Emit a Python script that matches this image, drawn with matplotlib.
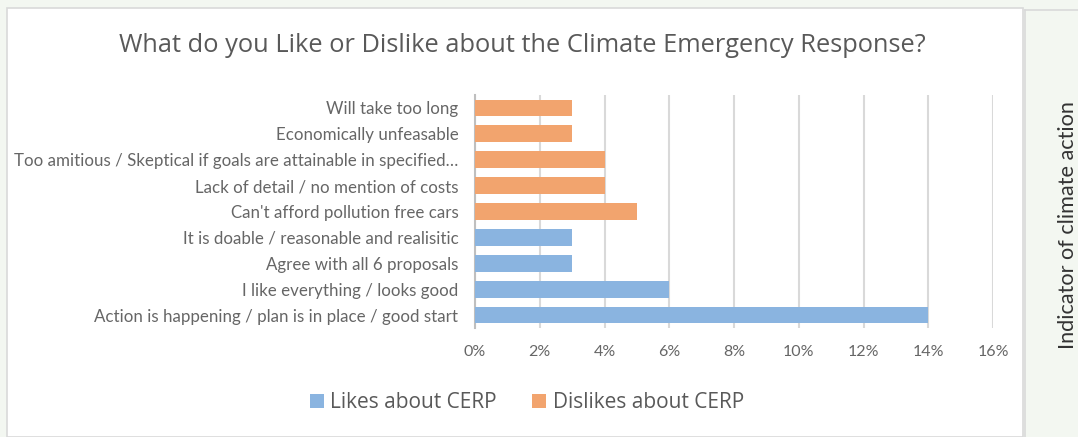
import matplotlib
matplotlib.use("Agg")
import matplotlib.pyplot as plt
import numpy as np
from matplotlib.patches import Rectangle, Patch
from matplotlib.lines import Line2D

categories = [
    "Action is happening / plan is in place / good start",
    "I like everything / looks good",
    "Agree with all 6 proposals",
    "It is doable / reasonable and realisitic",
    "Can't afford pollution free cars",
    "Lack of detail / no mention of costs",
    "Too amitious / Skeptical if goals are attainable in specified…",
    "Economically unfeasable",
    "Will take too long",
]
likes = [14, 6, 3, 3, np.nan, np.nan, np.nan, np.nan, np.nan]
dislikes = [np.nan, np.nan, np.nan, np.nan, 5, 4, 4, 3, 3]
x_ticks = [0, 2, 4, 6, 8, 10, 12, 14, 16]
x_tick_labels = [f"{t}%" for t in x_ticks]

BLUE = "#8ab4e0"
ORANGE = "#f2a46e"
TEXT = "#595959"
LABEL = "#666666"
PANEL = "#f3f7f1"

W, H = 1078, 437
fig = plt.figure(figsize=(W / 100, H / 100), dpi=100)
fig.patch.set_facecolor(PANEL)

def fx(px):
    return px / W

def fy(py):
    return 1 - py / H

# white chart frame
fig.patches.append(Rectangle((fx(7), 0), fx(1023) - fx(7), fy(8), transform=fig.transFigure,
                             facecolor="white", edgecolor="#d9d9d9", linewidth=1.2, zorder=-10))
# side panel border
fig.add_artist(Line2D([fx(1025), fx(1025)], [0, fy(10)], transform=fig.transFigure,
                      color="#d9d9d9", linewidth=1.2, zorder=-5))
fig.add_artist(Line2D([fx(1025), 1], [fy(10), fy(10)], transform=fig.transFigure,
                      color="#d9d9d9", linewidth=1.2, zorder=-5))

ax = fig.add_axes([fx(475), fy(328), fx(993) - fx(475), fy(95) - fy(328)])
ax.set_zorder(1)
ax.set_facecolor("white")
y = np.arange(len(categories))
ax.barh(y, likes, height=0.65, color=BLUE, zorder=3)
ax.barh(y, dislikes, height=0.65, color=ORANGE, zorder=3)

ax.set_xlim(0, 16)
ax.set_ylim(-0.5, len(categories) - 0.5)
ax.set_xticks(x_ticks)
ax.set_xticklabels(x_tick_labels)
ax.set_yticks(y)
ax.set_yticklabels(categories)
ax.grid(axis="x", color="#d9d9d9", linewidth=1.5, zorder=0)
ax.set_axisbelow(True)
for s in ["top", "right", "bottom"]:
    ax.spines[s].set_visible(False)
ax.spines["left"].set_color("#bfbfbf")
ax.spines["left"].set_linewidth(1.5)
ax.tick_params(axis="both", length=0, colors=LABEL)
ax.tick_params(axis="x", pad=12, labelsize=11.5)
ax.tick_params(axis="y", pad=12, labelsize=12.2)
for lab in ax.get_xticklabels() + ax.get_yticklabels():
    lab.set_fontfamily("Lato")
    lab.set_color(LABEL)

fig.text(fx(522), fy(45), "What do you Like or Dislike about the Climate Emergency Response?",
         ha="center", va="center", fontsize=18.3, color=TEXT, fontfamily="Open Sans")

handles = [Patch(facecolor=BLUE), Patch(facecolor=ORANGE)]
fig.legend(handles, ["Likes about CERP", "Dislikes about CERP"], loc="center",
           bbox_to_anchor=(fx(527), fy(403)), ncol=2, frameon=False,
           prop={"family": "Open Sans", "size": 15}, labelcolor=TEXT,
           handlelength=0.67, handleheight=0.67, handletextpad=0.3, columnspacing=1.7)

fig.text(fx(1068), fy(225), "Indicator of climate action", rotation=90, ha="center", va="center",
         fontsize=15.6, color="#333333", fontfamily="Lato")

fig.savefig("out.png", dpi=100, facecolor=fig.get_facecolor())
